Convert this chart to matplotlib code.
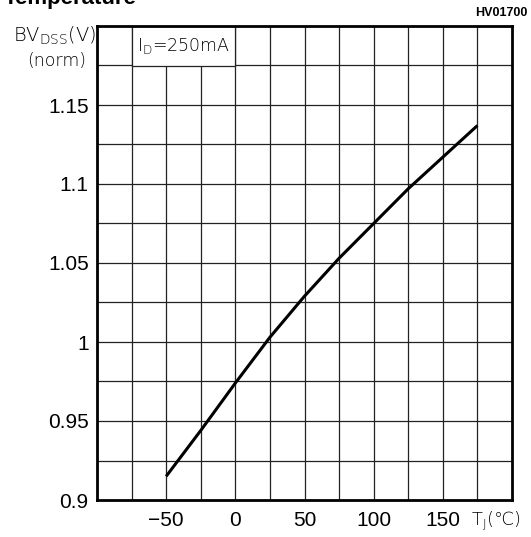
import numpy as np
from matplotlib import pyplot as plt
from matplotlib.patches import Rectangle

# junction temperature (C) and normalized breakdown voltage
temp = [-50, -25, 0, 25, 50, 75, 100, 125, 150, 175]
bv_norm = [0.915, 0.944, 0.974, 1.003, 1.029, 1.053, 1.075, 1.097, 1.117, 1.137]

x_ticks = [-50, 0, 50, 100, 150]
x_tick_labels = ["\u221250", "0", "50", "100", "150"]
y_ticks = [0.9, 0.95, 1.0, 1.05, 1.1, 1.15]
y_tick_labels = ["0.9", "0.95", "1", "1.05", "1.1", "1.15"]

W, H = 531, 537
fig = plt.figure(figsize=(W / 100, H / 100), dpi=100)
ax = fig.add_axes([97 / W, 1 - 500 / H, (512 - 97) / W, (500 - 26) / H])

ax.set_xlim(-100, 200)
ax.set_ylim(0.9, 1.2)

# grid every 25 C and 0.025
for gx in np.arange(-75, 200, 25):
    ax.axvline(gx, color="#222222", lw=0.9, zorder=1)
for gy in np.arange(0.925, 1.2, 0.025):
    ax.axhline(gy, color="#222222", lw=0.9, zorder=1)

# white box for the test condition label in the top row
ax.add_patch(Rectangle((-75, 1.175), 75, 0.025, facecolor="white",
                       edgecolor="#222222", lw=0.9, zorder=2))
ax.text(-71, 1.1875, "I$_{\\mathregular{D}}$=250mA", fontsize=12.5,
        va="center", ha="left", family="DejaVu Sans", fontweight="light", zorder=3)

ax.plot(temp, bv_norm, color="black", lw=2.2, zorder=4, solid_capstyle="butt")

for s in ax.spines.values():
    s.set_linewidth(2)
    s.set_color("black")
    s.set_zorder(5)

ax.set_xticks(x_ticks)
ax.set_xticklabels(x_tick_labels, family="Liberation Sans", fontsize=15)
ax.set_yticks(y_ticks)
ax.set_yticklabels(y_tick_labels, family="Liberation Sans", fontsize=15)
ax.tick_params(axis="y", length=0, pad=6)
ax.tick_params(axis="x", length=0, pad=8)

# axis captions placed like the datasheet
fig.text(96 / W, 1 - 36 / H, "BV$_{\\mathregular{DSS}}$(V)", ha="right", va="center",
         fontsize=14, family="DejaVu Sans", fontweight="light")
fig.text(86 / W, 1 - 61 / H, "(norm)", ha="right", va="center",
         fontsize=12.5, family="DejaVu Sans", fontweight="light")
fig.text(471 / W, 1 - 521 / H, "T$_{\\mathregular{J}}$(\u2103)", ha="left", va="center",
         fontsize=13, family=["DejaVu Sans", "Noto Sans CJK SC"], fontweight="light")
fig.text(527 / W, 1 - 13 / H, "HV01700", ha="right", va="center",
         fontsize=9, family="Liberation Sans", fontweight="bold")
fig.text(137 / W, 1 - 4 / H, "Temperature", ha="right", va="baseline",
         fontsize=16, family="Liberation Sans", fontweight="bold")

fig.savefig("out.png", dpi=100)
